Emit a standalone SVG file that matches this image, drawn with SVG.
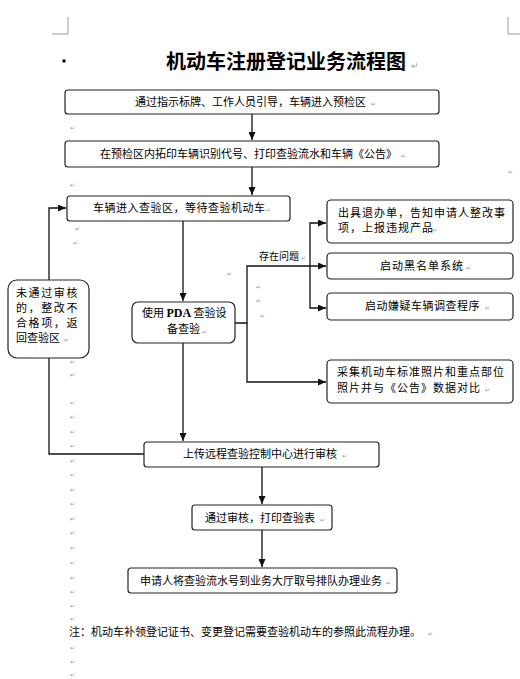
<svg xmlns="http://www.w3.org/2000/svg" width="520" height="679" viewBox="0 0 520 679">
<style>
text{font-family:"Noto Sans CJK SC","Noto Sans CJK JP",sans-serif;fill:#000;}
.t{font-size:11px;}
.r{font-size:11px;letter-spacing:1px;}
.title{font-size:20px;font-weight:bold;}
.box{fill:#fff;stroke:#222;stroke-width:1.2;}
.ln{fill:none;stroke:#111;stroke-width:1.3;}
.pm{font-size:6px;fill:#999;}
.crop{stroke:#999;stroke-width:1;fill:none;}
</style>
<defs>
<marker id="ah" markerUnits="userSpaceOnUse" markerWidth="9" markerHeight="7" refX="8" refY="3.5" orient="auto">
<path d="M0,0 L8,3.5 L0,7 z" fill="#111"/>
</marker>
</defs>
<rect width="520" height="679" fill="#fff"/>
<path class="crop" d="M68,17 V34 H52 M508,17 V34 H520"/>
<rect x="62.5" y="59.5" width="3" height="3" fill="#000"/>
<text class="title" x="166" y="69">机动车注册登记业务流程图</text>
<text x="411" y="69" style="font-size:9px;fill:#999">↵</text>

<g id="connectors">
<path class="ln" d="M252,114 V140" marker-end="url(#ah)"/>
<path class="ln" d="M252,167 V195" marker-end="url(#ah)"/>
<path class="ln" d="M183,221 V301" marker-end="url(#ah)"/>
<path class="ln" d="M235,323 H247 V266 H326" marker-end="url(#ah)"/>
<path class="ln" d="M247,323 V382 H326" marker-end="url(#ah)"/>
<path class="ln" d="M310,266 V223 H326" marker-end="url(#ah)"/>
<path class="ln" d="M310,266 V308 H326" marker-end="url(#ah)"/>
<path class="ln" d="M183,343 V441" marker-end="url(#ah)"/>
<path class="ln" d="M144,454 H49 V358"/>
<path class="ln" d="M49,280 V208 H66" marker-end="url(#ah)"/>
<path class="ln" d="M262,467 V504" marker-end="url(#ah)"/>
<path class="ln" d="M262,530 V567" marker-end="url(#ah)"/>
<text x="259" y="260" style="font-size:10px">存在问题</text>
</g>

<g id="n1"><rect class="box" x="65" y="90" width="374" height="24" rx="3"/>
<text class="t" x="135" y="106">通过指示标牌、工作人员引导，车辆进入预检区</text></g>
<g id="n2"><rect class="box" x="65" y="141" width="374" height="26" rx="3"/>
<text class="t" x="100" y="158">在预检区内拓印车辆识别代号、打印查验流水和车辆《公告》</text></g>
<g id="n3"><rect class="box" x="67" y="196" width="223" height="25" rx="3"/>
<text class="t" x="93" y="212" style="letter-spacing:0.5px">车辆进入查验区，等待查验机动车</text></g>
<g id="n4"><rect class="box" x="8" y="280" width="81" height="78" rx="9"/>
<text class="t"><tspan x="16" y="297" style="letter-spacing:1.6px">未通过审核</tspan><tspan x="16" y="312" style="letter-spacing:1.6px">的，整改不</tspan><tspan x="16" y="327" style="letter-spacing:1.6px">合格项，返</tspan><tspan x="16" y="342">回查验区</tspan></text></g>
<g id="n5"><rect class="box" x="132" y="302" width="103" height="41" rx="6"/>
<text class="t"><tspan x="142" y="317">使用 </tspan><tspan style="font-family:'Liberation Serif',serif;font-weight:bold;font-size:12px">PDA</tspan><tspan> 查验设</tspan><tspan x="167" y="333">备查验</tspan></text></g>
<g id="n6"><rect class="box" x="327" y="200" width="186" height="43" rx="4"/>
<text class="r"><tspan x="338" y="217">出具退办单，告知申请人整改事</tspan><tspan x="338" y="232">项，上报违规产品</tspan></text></g>
<g id="n7"><rect class="box" x="327" y="253" width="186" height="26" rx="4"/>
<text class="r" x="380" y="270">启动黑名单系统</text></g>
<g id="n8"><rect class="box" x="327" y="293" width="186" height="27" rx="4"/>
<text class="t" x="365" y="310" style="letter-spacing:0.5px">启动嫌疑车辆调查程序</text></g>
<g id="n9"><rect class="box" x="327" y="360" width="186" height="43" rx="4"/>
<text class="r"><tspan x="337" y="376">采集机动车标准照片和重点部位</tspan><tspan x="337" y="392">照片并与《公告》数据对比</tspan></text></g>
<g id="n10"><rect class="box" x="144" y="442" width="235" height="25" rx="3"/>
<text class="t" x="183" y="458">上传远程查验控制中心进行审核</text></g>
<g id="n11"><rect class="box" x="192" y="505" width="140" height="25" rx="3"/>
<text class="t" x="205" y="522">通过审核，打印查验表</text></g>
<g id="n12"><rect class="box" x="128" y="568" width="269" height="25" rx="3"/>
<text class="t" x="140" y="585">申请人将查验流水号到业务大厅取号排队办理业务</text></g>
<text class="t" x="69" y="636">注：机动车补领登记证书、变更登记需要查验机动车的参照此流程办理。</text>

<g id="marks">
<text class="pm" x="371" y="106">↵</text>
<text class="pm" x="70" y="130">↵</text>
<text class="pm" x="401" y="158">↵</text>
<text class="pm" x="508" y="174">↵</text>
<text class="pm" x="70" y="187">↵</text>
<text class="pm" x="266" y="212">↵</text>
<text class="pm" x="75" y="231">↵</text>
<text class="pm" x="73" y="245">↵</text>
<text class="pm" x="433" y="232">↵</text>
<text class="pm" x="301" y="260">↵</text>
<text class="pm" x="466" y="270">↵</text>
<text class="pm" x="227" y="276">↵</text>
<text class="pm" x="256" y="289">↵</text>
<text class="pm" x="256" y="303">↵</text>
<text class="pm" x="260" y="318">↵</text>
<text class="pm" x="485" y="310">↵</text>
<text class="pm" x="202" y="334">↵</text>
<text class="pm" x="64" y="342">↵</text>
<text class="pm" x="70" y="364">↵</text>
<text class="pm" x="70" y="377">↵</text>
<text class="pm" x="485" y="392">↵</text>
<text class="pm" x="70" y="405">↵</text>
<text class="pm" x="70" y="419">↵</text>
<text class="pm" x="70" y="434">↵</text>
<text class="pm" x="70" y="448">↵</text>
<text class="pm" x="70" y="463">↵</text>
<text class="pm" x="70" y="477">↵</text>
<text class="pm" x="70" y="492">↵</text>
<text class="pm" x="70" y="506">↵</text>
<text class="pm" x="70" y="521">↵</text>
<text class="pm" x="70" y="535">↵</text>
<text class="pm" x="70" y="550">↵</text>
<text class="pm" x="70" y="565">↵</text>
<text class="pm" x="70" y="580">↵</text>
<text class="pm" x="70" y="594">↵</text>
<text class="pm" x="70" y="608">↵</text>
<text class="pm" x="70" y="621">↵</text>
<text class="pm" x="70" y="650">↵</text>
<text class="pm" x="70" y="664">↵</text>
<text class="pm" x="70" y="677">↵</text>
<text class="pm" x="342" y="458">↵</text>
<text class="pm" x="320" y="522">↵</text>
<text class="pm" x="386" y="585">↵</text>
<text class="pm" x="428" y="636">↵</text>
</g>
</svg>
